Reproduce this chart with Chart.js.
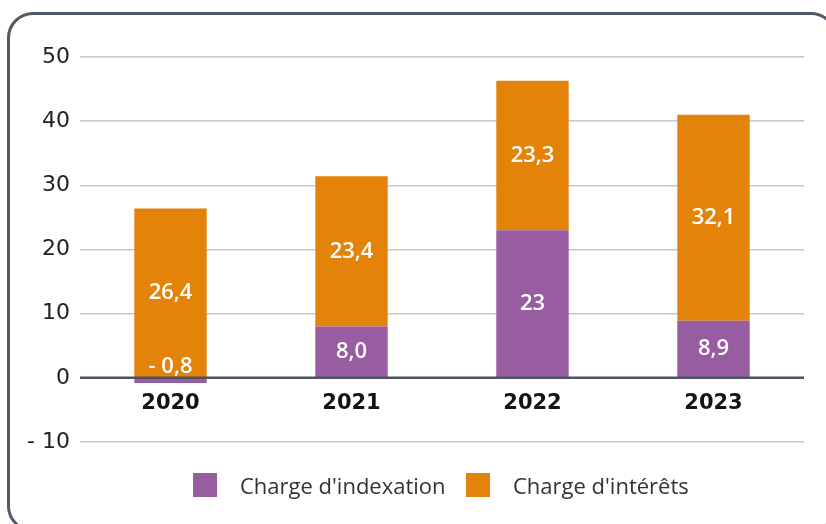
<!DOCTYPE html>
<html lang="fr">
<head>
<meta charset="utf-8">
<script src="https://cdn.jsdelivr.net/npm/chart.js@4"></script>
<style>
  html, body { margin: 0; padding: 0; background: #fff; overflow: hidden; }
  #wrap { position: relative; width: 826px; height: 524px; }
  #frame {
    position: absolute; left: 7px; top: 12px; width: 830px; height: 520px;
    box-sizing: border-box; border: 3px solid #525a67; border-radius: 26px;
  }
  #chart { position: absolute; left: 0; top: 0; }
  .legend { position: absolute; top: 473px; height: 24px; display: flex; align-items: center;
            font: 22px "Open Sans", sans-serif; color: #333; }
  .legend i { display: inline-block; width: 24px; height: 24px; margin-right: 23px; }
</style>
</head>
<body>
<div id="wrap">
  <div id="frame"></div>
  <canvas id="chart" width="826" height="524"></canvas>
  <div class="legend" style="left:193px"><i style="background:#985ca0"></i>Charge d'indexation</div>
  <div class="legend" style="left:466px"><i style="background:#e4830a"></i>Charge d'intérêts</div>
</div>
<script>
// ── Data ───────────────────────────────────────────────────────────────────
const YEARS          = ['2020', '2021', '2022', '2023'];
const INDEXATION     = [-0.8, 8.0, 23, 8.9];
const INTERETS       = [26.4, 23.4, 23.3, 32.1];
const INDEX_LABELS   = ['- 0,8', '8,0', '23', '8,9'];
const INTERET_LABELS = ['26,4', '23,4', '23,3', '32,1'];
const Y_TICKS        = { '-10': '- 10' };

const NUM_FONT = '"DejaVu Sans", sans-serif';

// ── Plugin: value labels, year labels on the zero line, zero line on top ──
const overlay = {
  id: 'overlay',
  afterDatasetsDraw(chart) {
    const { ctx, scales: { x, y }, chartArea } = chart;
    const zeroY = y.getPixelForValue(0);
    const texts = [INDEX_LABELS, INTERET_LABELS];

    ctx.save();
    ctx.fillStyle = '#fff';
    ctx.font = '600 22px "Open Sans", sans-serif';
    ctx.textAlign = 'center';
    ctx.textBaseline = 'middle';
    chart.data.datasets.forEach((ds, di) => {
      chart.getDatasetMeta(di).data.forEach((bar, i) => {
        const v = ds.data[i];
        const ty = v < 0 ? zeroY - 11 : (bar.y + bar.base) / 2;
        ctx.fillText(texts[di][i], bar.x, ty);
      });
    });

    // zero line
    ctx.strokeStyle = '#4d5563';
    ctx.lineWidth = 2.5;
    ctx.beginPath();
    ctx.moveTo(chartArea.left, zeroY);
    ctx.lineTo(chartArea.right, zeroY);
    ctx.stroke();

    // years just under the zero line
    ctx.fillStyle = '#141414';
    ctx.font = `bold 21px ${NUM_FONT}`;
    YEARS.forEach((yr, i) => ctx.fillText(yr, x.getPixelForValue(i), zeroY + 26));
    ctx.restore();
  },
};

new Chart(document.getElementById('chart'), {
  type: 'bar',
  data: {
    labels: YEARS,
    datasets: [
      { label: "Charge d'indexation", data: INDEXATION, backgroundColor: '#985ca0' },
      { label: "Charge d'intérêts",   data: INTERETS,   backgroundColor: '#e4830a' },
    ],
  },
  options: {
    responsive: false,
    animation: false,
    events: [],
    layout: { padding: { left: 8, right: 22, top: 57, bottom: 82 } },
    datasets: { bar: { barPercentage: 0.4, categoryPercentage: 1 } },
    plugins: { legend: { display: false }, tooltip: { enabled: false } },
    scales: {
      x: { stacked: true, display: false },
      y: {
        stacked: true,
        min: -10, max: 50,
        afterFit: s => { s.width = 72; },
        border: { display: false },
        grid: {
          drawTicks: false,
          color: c => c.tick && c.tick.value === 0 ? 'rgba(0,0,0,0)' : '#c3c7cf',
          lineWidth: 1.5,
        },
        ticks: {
          stepSize: 10,
          padding: 10,
          color: '#222',
          font: { family: NUM_FONT, size: 22 },
          callback: v => Y_TICKS[v] || String(v),
        },
      },
    },
  },
  plugins: [overlay],
});
</script>
</body>
</html>
